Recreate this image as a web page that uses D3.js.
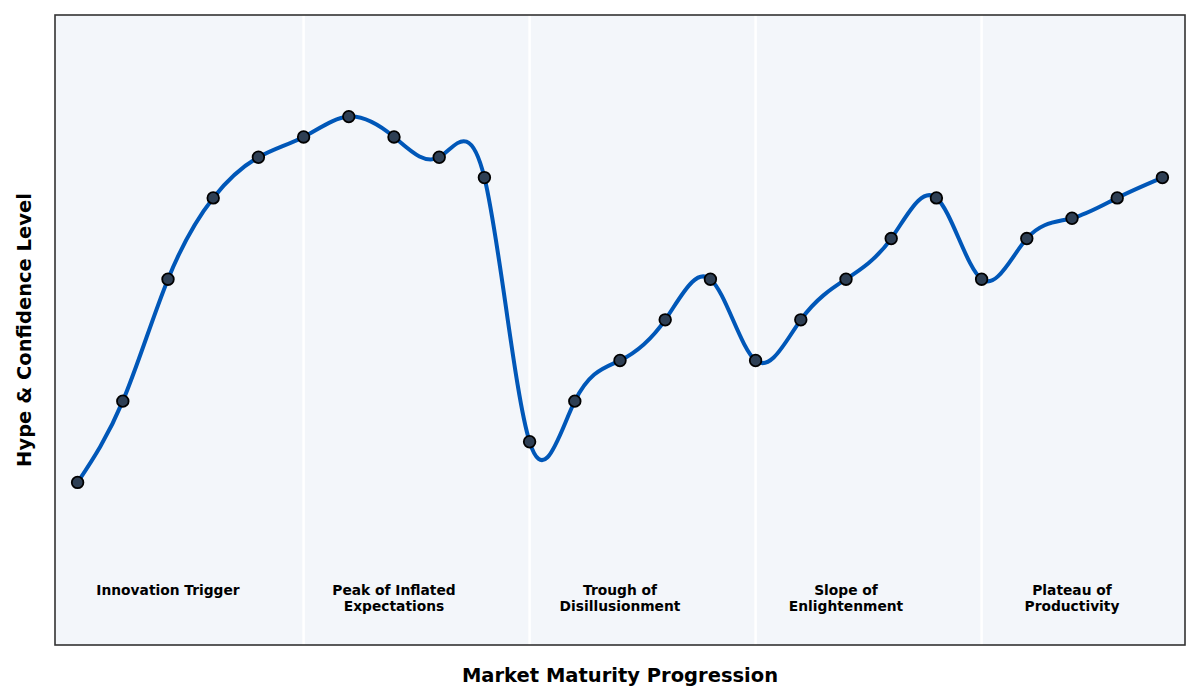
<!DOCTYPE html>
<html>
<head>
<meta charset="utf-8">
<script src="https://cdn.jsdelivr.net/npm/d3@7"></script>
<style>
  body { margin: 0; background: #fff; }
  text { font-family: "DejaVu Sans", sans-serif; }
</style>
</head>
<body>
<div id="chart"></div>
<script>
// hype values, one per step
var steps = d3.range(25);
var hype = [10, 30, 60, 80, 90, 95, 100, 95, 90, 85,
            20, 30, 40, 50, 60, 40, 50, 60, 70, 80,
            60, 70, 75, 80, 85];
var phaseNames = [["Innovation Trigger"], ["Peak of Inflated", "Expectations"],
                  ["Trough of", "Disillusionment"], ["Slope of", "Enlightenment"],
                  ["Plateau of", "Productivity"]];
var phaseCenters = [2, 7, 12, 17, 22];
var phaseBreaks = [5, 10, 15, 20];

var width = 1200, height = 700;
var margin = {top: 15, right: 15, bottom: 55, left: 55};
var w = width - margin.left - margin.right;
var h = height - margin.top - margin.bottom;

var svg = d3.select("#chart").append("svg")
    .attr("width", width)
    .attr("height", height);

var g = svg.append("g")
    .attr("transform", "translate(" + margin.left + "," + margin.top + ")");

var x = d3.scaleLinear().domain([-0.5, 24.5]).range([0, w]);
var y = d3.scaleLinear().domain([-30, 125]).range([h, 0]);

// background
g.append("rect")
    .attr("width", w)
    .attr("height", h)
    .attr("fill", "#f3f6fa");

// phase separators
g.selectAll(".sep")
    .data(phaseBreaks)
    .enter().append("line")
    .attr("x1", function(d) { return x(d); })
    .attr("x2", function(d) { return x(d); })
    .attr("y1", 0)
    .attr("y2", h)
    .attr("stroke", "#ffffff")
    .attr("stroke-width", 2.5);

// smooth curve
var line = d3.line()
    .x(function(d) { return x(d); })
    .y(function(d) { return y(hype[d]); })
    .curve(d3.curveNatural);

g.append("path")
    .datum(steps)
    .attr("d", line)
    .attr("fill", "none")
    .attr("stroke", "#0057b8")
    .attr("stroke-width", 4);

// points
g.selectAll(".pt")
    .data(steps)
    .enter().append("circle")
    .attr("cx", function(d) { return x(d); })
    .attr("cy", function(d) { return y(hype[d]); })
    .attr("r", 5.8)
    .attr("fill", "#2e3f54")
    .attr("stroke", "#000")
    .attr("stroke-width", 1.8);

// phase labels
phaseNames.forEach(function(lines, i) {
    var t = g.append("text")
        .attr("x", x(phaseCenters[i]))
        .attr("y", 580)
        .attr("text-anchor", "middle")
        .attr("font-size", 13.8)
        .attr("font-weight", "bold");
    lines.forEach(function(s, j) {
        t.append("tspan")
            .attr("x", x(phaseCenters[i]))
            .attr("dy", j === 0 ? 0 : 16)
            .text(s);
    });
});

// frame
g.append("rect")
    .attr("width", w)
    .attr("height", h)
    .attr("fill", "none")
    .attr("stroke", "#333")
    .attr("stroke-width", 1.6);

// axis labels
svg.append("text")
    .attr("x", margin.left + w / 2)
    .attr("y", 682)
    .attr("text-anchor", "middle")
    .attr("font-size", 19.5)
    .attr("font-weight", "bold")
    .text("Market Maturity Progression");

svg.append("text")
    .attr("transform", "translate(31," + (margin.top + h / 2) + ") rotate(-90)")
    .attr("text-anchor", "middle")
    .attr("font-size", 19.5)
    .attr("font-weight", "bold")
    .text("Hype & Confidence Level");
</script>
</body>
</html>
